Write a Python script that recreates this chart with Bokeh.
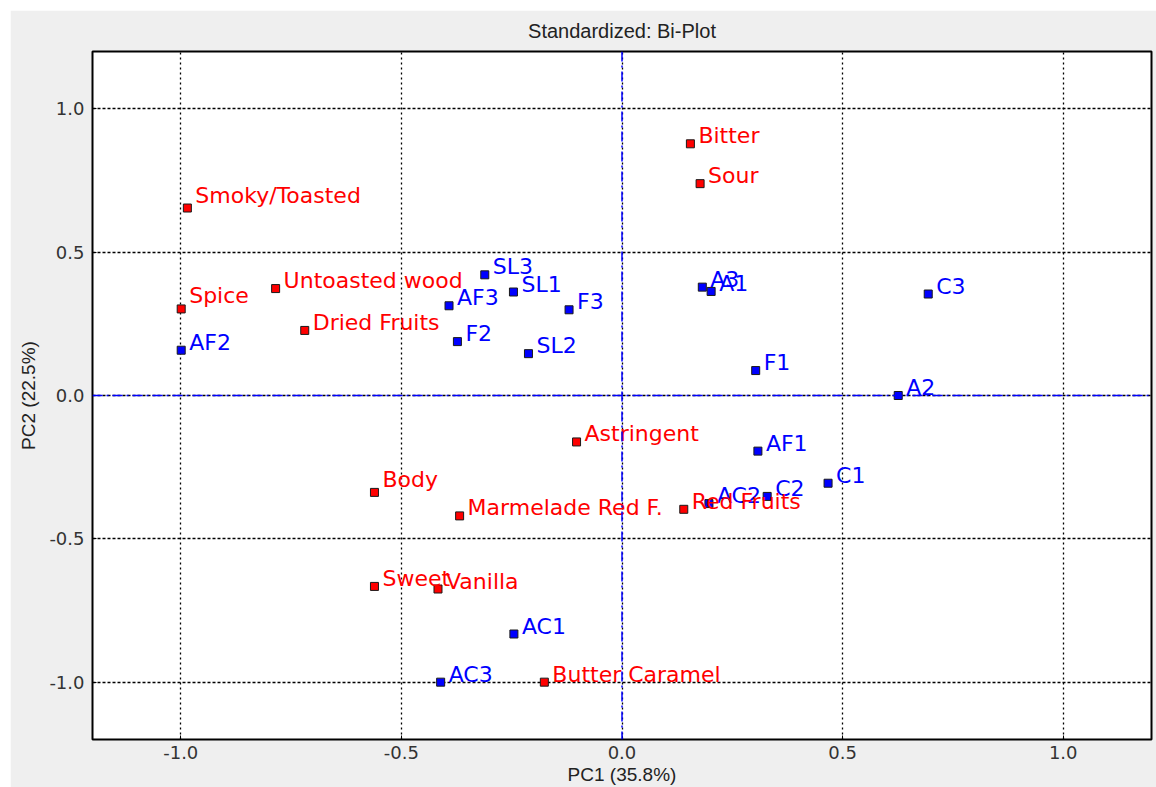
from bokeh.plotting import figure
from bokeh.models import Span, ColumnDataSource, FixedTicker, PrintfTickFormatter
from bokeh.core.properties import value
from bokeh.embed import file_html
from bokeh.resources import INLINE

# Sensory attributes (loadings) on the first two principal components
attr_names = ["Smoky/Toasted", "Bitter", "Sour", "Spice", "Untoasted wood",
              "Dried Fruits", "Body", "Astringent", "Marmelade Red F.",
              "Red Fruits", "Sweet", "Vanilla", "Butter Caramel"]
attr_pc1 = [-0.985, 0.155, 0.177, -0.999, -0.785, -0.719, -0.561, -0.103,
            -0.368, 0.140, -0.561, -0.417, -0.176]
attr_pc2 = [0.654, 0.878, 0.739, 0.302, 0.373, 0.227, -0.338, -0.162,
            -0.420, -0.397, -0.666, -0.675, -1.000]

# Samples (scores) on the first two principal components
sample_names = ["AF2", "SL3", "SL1", "AF3", "F3", "F2", "SL2", "A3", "A1",
                "F1", "AF1", "AC2", "C2", "C3", "A2", "C1", "AC1", "AC3"]
sample_pc1 = [-0.999, -0.311, -0.246, -0.392, -0.120, -0.373, -0.212, 0.182,
              0.202, 0.303, 0.308, 0.197, 0.329, 0.694, 0.626, 0.467,
              -0.245, -0.411]
sample_pc2 = [0.158, 0.421, 0.361, 0.313, 0.299, 0.188, 0.146, 0.378, 0.363,
              0.087, -0.194, -0.377, -0.352, 0.354, 0.000, -0.306, -0.832,
              -1.000]

ticks = [-1.0, -0.5, 0.0, 0.5, 1.0]

# a few labels sit slightly higher than the rest
label_lift = {"Smoky/Toasted": 5, "Spice": 5, "Body": 5}

RED = "#ff0000"
BLUE = "#0000ff"
LABEL_FONT = value("DejaVu Sans")
LABEL_RISE = 8

p = figure(frame_width=1059, frame_height=688,
           x_range=(-1.2, 1.2), y_range=(-1.2, 1.2),
           output_backend="svg", toolbar_location=None,
           min_border_left=82, min_border_right=5,
           min_border_top=41, min_border_bottom=48,
           title="Standardized: Bi-Plot")
p.margin = (10, 0, 0, 10)

p.border_fill_color = "#efefef"
p.background_fill_color = "white"
p.outline_line_color = "black"
p.outline_line_width = 2

p.title.align = "center"
p.title.vertical_align = "top"
p.title.text_font = "Liberation Sans Narrow, Liberation Sans"
p.title.text_font_size = "20px"
p.title.text_font_style = "normal"
p.title.text_color = "#222222"
p.title.standoff = 16

for ax in (p.xaxis[0], p.yaxis[0]):
    ax.ticker = FixedTicker(ticks=ticks)
    ax.formatter = PrintfTickFormatter(format="%.1f")
    ax.minor_tick_line_color = None
    ax.major_tick_in = 4
    ax.major_tick_out = 0
    ax.major_tick_line_color = "black"
    ax.axis_line_color = None
    ax.major_label_text_font = "DejaVu Sans"
    ax.major_label_text_font_size = "18px"
    ax.major_label_text_color = "#333333"
    ax.axis_label_text_font = "Liberation Sans Narrow, Liberation Sans"
    ax.axis_label_text_font_size = "19px"
    ax.axis_label_text_font_style = "normal"
    ax.axis_label_text_color = "#222222"

p.xaxis.axis_label = "PC1 (35.8%)"
p.yaxis.axis_label = "PC2 (22.5%)"
p.xaxis.major_label_standoff = 6
p.yaxis.major_label_standoff = 8
p.xaxis.axis_label_standoff = 2
p.yaxis.axis_label_standoff = 7

p.xgrid.ticker = FixedTicker(ticks=ticks)
p.ygrid.ticker = FixedTicker(ticks=ticks)
p.xgrid.grid_line_color = "black"
p.xgrid.grid_line_dash = "2 3"
p.xgrid.grid_line_width = 1.3
p.ygrid.grid_line_color = "black"
p.ygrid.grid_line_dash = "3 2"
p.ygrid.grid_line_width = 1.3

# origin axes
for dim in ("width", "height"):
    p.add_layout(Span(location=0, dimension=dim, line_color=BLUE,
                      line_width=1.5, line_dash="10 4 2 4"))

samples = ColumnDataSource(dict(x=sample_pc1, y=sample_pc2,
                                name=sample_names,
                                dy=[-LABEL_RISE] * len(sample_names)))
attrs = ColumnDataSource(dict(x=attr_pc1, y=attr_pc2, name=attr_names,
                              dy=[-LABEL_RISE - label_lift.get(n, 0)
                                  for n in attr_names]))

for src, col in ((samples, BLUE), (attrs, RED)):
    p.scatter("x", "y", source=src, marker="square", size=8,
              fill_color=col, line_color="#1a1a1a", line_width=1)
    p.text("x", "y", text="name", source=src, x_offset=8, y_offset="dy",
           text_color=col, text_font=LABEL_FONT, text_font_size="22px",
           text_baseline="middle", text_align="left")

open("out.html", "w").write(file_html(p, INLINE))
